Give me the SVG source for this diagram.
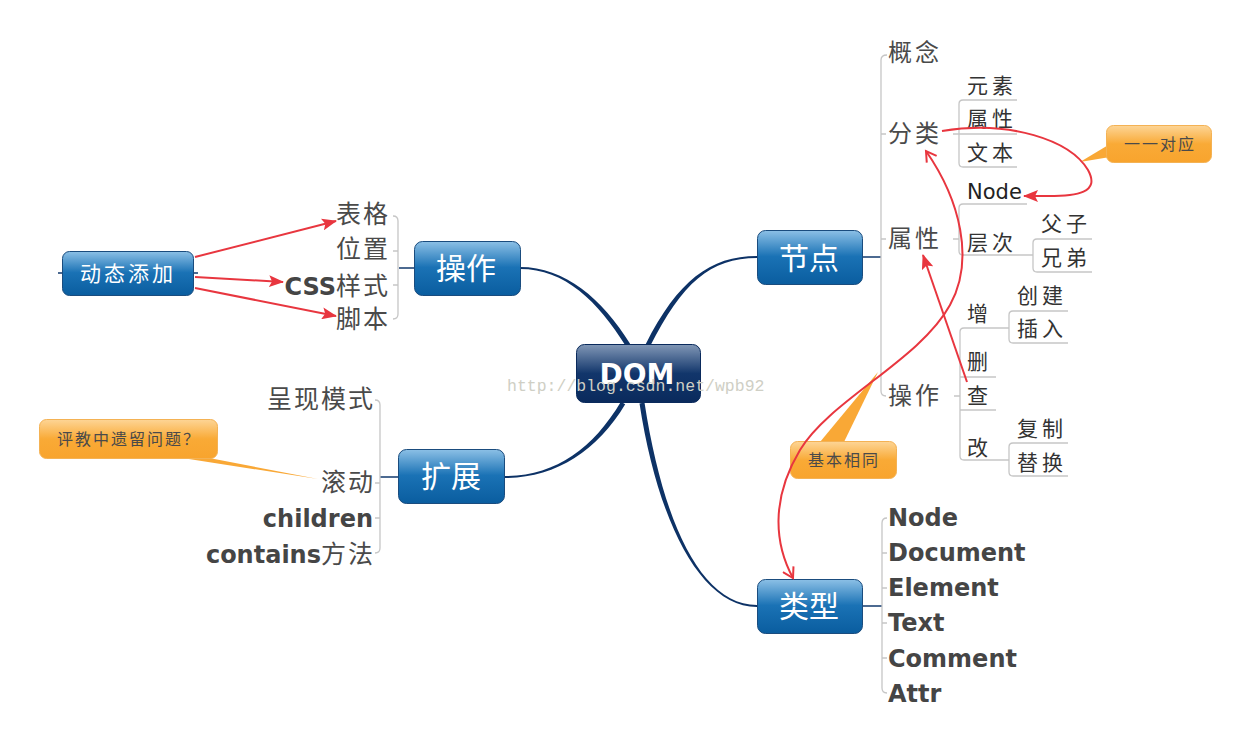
<svg xmlns="http://www.w3.org/2000/svg" width="1252" height="748" viewBox="0 0 1252 748">
<defs>
<linearGradient id="gBlue" x1="0" y1="0" x2="0" y2="1">
<stop offset="0" stop-color="#8cc0e6"/><stop offset="0.48" stop-color="#1a72b5"/><stop offset="1" stop-color="#0a5d9f"/>
</linearGradient>
<linearGradient id="gNavy" x1="0" y1="0" x2="0" y2="1">
<stop offset="0" stop-color="#8197b6"/><stop offset="0.5" stop-color="#12366b"/><stop offset="1" stop-color="#0a2a5c"/>
</linearGradient>
<linearGradient id="gOrange" x1="0" y1="0" x2="0" y2="1">
<stop offset="0" stop-color="#fdd596"/><stop offset="0.5" stop-color="#f9aa36"/><stop offset="1" stop-color="#f8a42e"/>
</linearGradient>
<marker id="aFill" markerUnits="userSpaceOnUse" markerWidth="16" markerHeight="12" refX="14" refY="6" orient="auto">
<path d="M0,0 L15,6 L0,12 L3,6 Z" fill="#e8363f"/>
</marker>
<marker id="aOpen" markerUnits="userSpaceOnUse" markerWidth="14" markerHeight="14" refX="11" refY="7" orient="auto-start-reverse">
<path d="M1,1 L11,7 L1,13" fill="none" stroke="#e8363f" stroke-width="2"/>
</marker>
<style>
.br{fill:none;stroke:#c6c6c6;stroke-width:1.3}
.stub{stroke:#123a6e;stroke-width:1.3;fill:none}
.trunk{fill:#0d3266}
.blue{fill:url(#gBlue);stroke:#1a4c7e;stroke-width:1}
.navy{fill:url(#gNavy);stroke:#0a2a5c;stroke-width:1}
.orange{fill:url(#gOrange);stroke:#f4b254;stroke-width:1}
.cn{font-family:"Noto Sans CJK SC","Noto Sans",sans-serif}
.t24{font-size:24px;fill:#4a4a4a;letter-spacing:3px}
.t25{font-size:25px;fill:#4a4a4a;letter-spacing:2px;text-anchor:end}
.t21{font-size:21px;fill:#333;letter-spacing:4px}
.lat{font-family:"DejaVu Sans",Verdana,sans-serif;letter-spacing:0}
.b24{font-family:"DejaVu Sans",Verdana,sans-serif;font-weight:bold;font-size:24px;fill:#454545;letter-spacing:0}
.nt{font-size:30px;fill:#fff;text-anchor:middle}
.ct{font-size:16px;fill:#4a4a4a;letter-spacing:2px}
.red{fill:none;stroke:#e8363f;stroke-width:2}
.wm{font-family:"Liberation Mono",monospace;font-size:16.5px;fill:#cfcfc5}
</style>
</defs>
<rect width="1252" height="748" fill="#fff"/>

<g id="connectors">
<path class="trunk" d="M650.2,346.1 C682.2,283.1 710,258 757,258 L757,256 C710,256 677.8,280.9 645.8,343.9 Z"/>
<path class="trunk" d="M639.5,403.4 C657.5,520.4 700,607 757,607 L757,605 C700,605 662.5,519.6 644.5,402.6 Z"/>
<path class="trunk" d="M630.1,343.7 C602.1,298.7 565,267 520,267 L520,269 C565,269 597.9,301.3 625.9,346.3 Z"/>
<path class="trunk" d="M620.9,401.7 C592.9,448.7 555,476 505,476 L505,478 C555,478 597.2,451.3 625.2,404.3 Z"/>
<path class="stub" d="M863,257 L881,257 M863,606 L882,606 M399,268 L414,268 M380,477 L398,477 M58,273 L62,273 M194,273 L198,273"/>
<path class="br" d="M887,55 Q881,55 881,60 L881,391 Q881,396 886,396 M881,134 L886,134 M881,239 L886,239"/>
<path class="br" d="M1017,100 L963,100 Q959,100 959,104 L959,163 Q959,167 963,167 L1017,167 M953,134 L1017,134"/>
<path class="br" d="M1027,204 L963,204 Q959,204 959,208 L959,251 Q959,255 963,255 L1033,255 M953,239 L959,239"/>
<path class="br" d="M1092,239 L1037,239 Q1033,239 1033,243 L1033,268 Q1033,272 1037,272 L1092,272"/>
<path class="br" d="M1009,328 L964,328 Q960,328 960,332 L960,456 Q960,460 964,460 L1009,460 M960,377 L996,377 M960,410 L996,410 M954,396 L960,396"/>
<path class="br" d="M1068,311 L1013,311 Q1009,311 1009,315 L1009,339 Q1009,343 1013,343 L1068,343"/>
<path class="br" d="M1068,443 L1013,443 Q1009,443 1009,447 L1009,472 Q1009,476 1013,476 L1068,476"/>
<path class="br" d="M887,518 Q882,518 882,523 L882,688 Q882,693 887,693 M882,553 L887,553 M882,588 L887,588 M882,623 L887,623 M882,658 L887,658"/>
<path class="br" d="M393,216 Q398,216 398,221 L398,314 Q398,319 393,319 M393,251 L398,251 M393,285 L398,285"/>
<path class="br" d="M375,400 Q380,400 380,405 L380,548 Q380,553 375,553 M375,483 L380,483 M375,518 L380,518"/>
</g>

<g id="node-dom">
<rect class="navy" x="576.5" y="344.5" width="124" height="58" rx="8"/>
<text x="637" y="384" font-family="DejaVu Sans,Verdana,sans-serif" font-weight="bold" font-size="28" fill="#fff" text-anchor="middle">DOM</text>
</g>
<g id="node-jiedian">
<rect class="blue" x="757.5" y="230.5" width="105" height="54" rx="8"/>
<text class="cn nt" x="809" y="269">节点</text>
</g>
<g id="node-leixing">
<rect class="blue" x="757.5" y="579.5" width="105" height="54" rx="8"/>
<text class="cn nt" x="809" y="617">类型</text>
</g>
<g id="node-caozuo">
<rect class="blue" x="414.5" y="241.5" width="106" height="54" rx="8"/>
<text class="cn nt" x="466" y="279">操作</text>
</g>
<g id="node-kuozhan">
<rect class="blue" x="398.5" y="449.5" width="106" height="54" rx="8"/>
<text class="cn nt" x="451" y="487">扩展</text>
</g>
<g id="node-dongtai">
<rect class="blue" x="62.5" y="251.5" width="131" height="44" rx="7"/>
<text class="cn" x="128" y="281" font-size="21" fill="#fff" letter-spacing="3" text-anchor="middle">动态添加</text>
</g>

<g id="node-jiedian-children">
<text class="cn t24" x="888" y="61">概念</text>
<text class="cn t24" x="888" y="142">分类</text>
<text class="cn t24" x="888" y="247">属性</text>
<text class="cn t24" x="888" y="404">操作</text>
<text class="cn t21" x="967" y="93">元素</text>
<text class="cn t21" x="967" y="126">属性</text>
<text class="cn t21" x="967" y="160">文本</text>
<text class="lat" x="967" y="199" font-size="21" fill="#222">Node</text>
<text class="cn t21" x="967" y="250">层次</text>
<text class="cn t21" x="1041" y="231">父子</text>
<text class="cn t21" x="1041" y="265">兄弟</text>
<text class="cn t21" x="967" y="321">增</text>
<text class="cn t21" x="967" y="369">删</text>
<text class="cn t21" x="967" y="403">查</text>
<text class="cn t21" x="967" y="455">改</text>
<text class="cn t21" x="1017" y="303">创建</text>
<text class="cn t21" x="1017" y="336">插入</text>
<text class="cn t21" x="1017" y="436">复制</text>
<text class="cn t21" x="1017" y="470">替换</text>
</g>

<g id="node-leixing-children">
<text class="b24" x="888" y="526">Node</text>
<text class="b24" x="888" y="561">Document</text>
<text class="b24" x="888" y="596">Element</text>
<text class="b24" x="888" y="631">Text</text>
<text class="b24" x="888" y="667">Comment</text>
<text class="b24" x="888" y="702">Attr</text>
</g>

<g id="node-caozuo-children">
<text class="cn t25" x="390" y="223">表格</text>
<text class="cn t25" x="390" y="258">位置</text>
<text class="cn t25" x="390" y="295"><tspan class="b24" font-size="24">CSS</tspan>样式</text>
<text class="cn t25" x="390" y="328">脚本</text>
</g>

<g id="node-kuozhan-children">
<text class="cn t25" x="375" y="408">呈现模式</text>
<text class="cn t25" x="375" y="491">滚动</text>
<text class="b24" x="373" y="527" text-anchor="end">children</text>
<text class="cn t25" x="375" y="563"><tspan class="b24">contains</tspan>方法</text>
</g>

<g id="callouts">
<path d="M1110,144 L1110,157 L1080,162 Z" fill="#f9a836"/>
<rect class="orange" x="1106.5" y="125.5" width="105" height="37" rx="7"/>
<text class="cn ct" x="1160" y="150" text-anchor="middle">一一对应</text>
<path d="M820,442 L844,442 L878,372 Z" fill="#f9a836"/>
<rect class="orange" x="790.5" y="441.5" width="106" height="37" rx="7"/>
<text class="cn ct" x="844" y="466" text-anchor="middle">基本相同</text>
<path d="M176,457 L204,457 L318,479 Z" fill="#f9a836"/>
<rect class="orange" x="39.5" y="419.5" width="178" height="39" rx="7"/>
<text class="cn ct" x="57" y="445" letter-spacing="1">评教中遗留问题？</text>
</g>

<g id="relations">
<path class="red" d="M195,257 L336,221" marker-end="url(#aFill)"/>
<path class="red" d="M195,277 L283,282" marker-end="url(#aFill)"/>
<path class="red" d="M195,288 L336,316" marker-end="url(#aFill)"/>
<path class="red" d="M942,131 C1010,120 1070,140 1088,170 C1100,192 1080,197 1040,196 L1024,196" marker-end="url(#aFill)"/>
<path class="red" d="M967,382 L923,255" marker-end="url(#aFill)"/>
<path class="red" d="M926,151 C960,200 975,260 950,305 C920,360 830,400 800,450 C770,500 775,545 793,578" marker-start="url(#aOpen)" marker-end="url(#aOpen)"/>
</g>

<text class="wm" x="507" y="391">http://blog.csdn.net/wpb92</text>
</svg>
